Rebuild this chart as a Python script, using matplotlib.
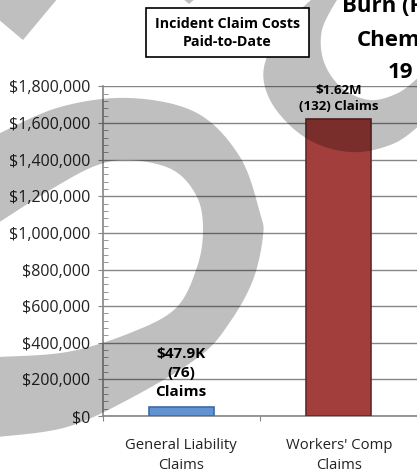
import numpy as np
import matplotlib
matplotlib.use('Agg')
import matplotlib.pyplot as plt
from matplotlib.patches import Polygon, Rectangle
from matplotlib.transforms import Affine2D, IdentityTransform
from matplotlib.ticker import MultipleLocator, FuncFormatter

# Data
categories = ['General Liability\nClaims', "Workers' Comp\nClaims"]
costs = [47900, 1620000]
bar_labels = ['$47.9K\n(76)\nClaims', '$1.62M\n(132) Claims']
bar_colors = ['#6193D2', '#A23E3C']
edge_colors = ['#3C6BA6', '#6A2826']

plt.rcParams['font.family'] = ['Open Sans', 'DejaVu Sans']

W, H = 417, 473
fig = plt.figure(figsize=(W / 100, H / 100), dpi=100)
ax = fig.add_axes([102.5 / W, (H - 416) / H, 315 / W, 329.5 / H])

x = np.arange(len(categories))
ax.bar(x, costs, width=0.41, color=bar_colors, edgecolor=edge_colors,
       linewidth=1.2, zorder=3)

ax.set_xlim(-0.5, 1.5)
ax.set_ylim(0, 1800000)

# y axis
ax.yaxis.set_major_locator(MultipleLocator(200000))
ax.yaxis.set_minor_locator(MultipleLocator(40000))
ax.yaxis.set_major_formatter(FuncFormatter(lambda v, p: '${:,.0f}'.format(v)))
ax.tick_params(axis='y', which='major', direction='out', length=3.6,
               color='#868686', labelsize=11.5, labelcolor='#222222', pad=5)
ax.tick_params(axis='y', which='minor', direction='in', length=3.6,
               color='#868686')
ax.grid(axis='y', which='major', color='#868686', linewidth=1, zorder=0)

# x axis: separators as major ticks, category names as minor ticks
ax.set_xticks([-0.5, 0.5, 1.5])
ax.set_xticklabels([])
ax.set_xticks(x, minor=True)
ax.set_xticklabels(categories, minor=True, fontsize=10.7, color='#222222',
                   linespacing=1.45)
ax.tick_params(axis='x', which='major', direction='out', length=3.6,
               color='#868686')
ax.tick_params(axis='x', which='minor', length=0, pad=16)

for s in ['top', 'right']:
    ax.spines[s].set_visible(False)
for s in ['left', 'bottom']:
    ax.spines[s].set_color('#868686')
    ax.spines[s].set_linewidth(1.2)

# bar annotations
ax.annotate(bar_labels[0], (x[0], costs[0]), xytext=(0, 6),
            textcoords='offset points', ha='center', va='bottom',
            fontsize=11, fontweight='bold', linespacing=1.45, zorder=5)
ax.annotate(bar_labels[1], (x[1], costs[1]), xytext=(0, 5),
            textcoords='offset points', ha='center', va='bottom',
            fontsize=9.5, fontweight='bold', linespacing=1.25, zorder=5)

# ---- decorative watermark shapes (pixel coords, y down) ----
px = Affine2D().scale(1, -1).translate(0, H) + IdentityTransform()


def smooth(pts, n=12):
    # Catmull-Rom through the given points
    p = np.asarray(pts, dtype=float)
    p = np.vstack([p[0], p, p[-1]])
    out = []
    for i in range(1, len(p) - 2):
        p0, p1, p2, p3 = p[i - 1], p[i], p[i + 1], p[i + 2]
        for t in np.linspace(0, 1, n, endpoint=False):
            t2, t3 = t * t, t * t * t
            out.append(0.5 * ((2 * p1) + (-p0 + p2) * t
                              + (2 * p0 - 5 * p1 + 4 * p2 - p3) * t2
                              + (-p0 + 3 * p1 - 3 * p2 + p3) * t3))
    out.append(p[-2])
    return np.array(out)


wm = dict(facecolor='black', alpha=0.25, edgecolor='none', transform=px,
          zorder=2)

# top-left corner pieces
fig.patches.append(Polygon([(-2, -2), (58, -2), (23, 40), (-2, 19)], **wm))
fig.patches.append(Polygon([(182, -2), (196, -2), (189, 4)], **wm))

# big left band
outer = smooth([(-2, 134), (60, 107), (130, 98), (197, 113), (240, 157),
                (260, 213), (263, 236), (253, 280), (230, 322), (200, 356),
                (133, 397), (67, 427), (-2, 437)])
inner = smooth([(-2, 357), (67, 352), (130, 333), (176, 308), (197, 267),
                (203, 230), (197, 197), (173, 170), (130, 160), (95, 166),
                (50, 190), (-2, 223)])
fig.patches.append(Polygon(np.vstack([outer, inner]), **wm))

# upper-right ring
outer_r = smooth([(313, -2), (283, 28), (264, 67), (270, 100), (295, 130),
                  (325, 147), (360, 152), (395, 143), (419, 126)])
inner_r = smooth([(419, 77), (398, 93), (370, 100), (342, 88), (324, 62),
                  (322, 30), (338, -2)])
fig.patches.append(Polygon(np.vstack([outer_r, inner_r]), **wm))

# title box
fig.patches.append(Rectangle((146, 8), 163, 49, facecolor='white',
                             edgecolor='black', linewidth=1.2, transform=px,
                             zorder=4))
fig.text(227.5 / W, 1 - 33 / H, 'Incident Claim Costs\nPaid-to-Date',
         ha='center', va='center', fontsize=10.3, fontweight='bold',
         linespacing=1.4, zorder=6)

# main title (cut off at right edge, only the visible part)
fig.text(342 / W, 1 - 7 / H, 'Burn (F', ha='left', va='center',
         fontsize=16, fontweight='bold', zorder=6)
fig.text(357 / W, 1 - 40 / H, 'Chem', ha='left', va='center',
         fontsize=16, fontweight='bold', zorder=6)
fig.text(388 / W, 1 - 73 / H, '19', ha='left', va='center',
         fontsize=16, fontweight='bold', zorder=6)

fig.savefig('out.png', dpi=100)
